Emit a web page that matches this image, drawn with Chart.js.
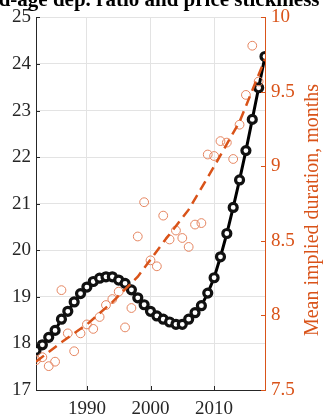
<!DOCTYPE html>
<html>
<head>
<meta charset="utf-8">
<script src="https://cdn.jsdelivr.net/npm/chart.js@4/dist/chart.umd.min.js"></script>
<style>
  html, body { margin: 0; padding: 0; background: #fff; overflow: hidden; }
  canvas { display: block; }
</style>
</head>
<body>
<canvas id="chart" width="323" height="416"></canvas>
<script>
// Old-age dependency ratio (left axis), 1982-2018
const years = [1982,1983,1984,1985,1986,1987,1988,1989,1990,1991,1992,1993,1994,1995,1996,1997,1998,1999,
               2000,2001,2002,2003,2004,2005,2006,2007,2008,2009,2010,2011,2012,2013,2014,2015,2016,2017,2018];
const dependencyRatio = [17.85,17.97,18.13,18.28,18.52,18.69,18.89,19.07,19.21,19.33,19.40,19.43,19.43,19.36,19.29,19.15,18.98,18.83,
                         18.69,18.59,18.52,18.46,18.41,18.41,18.52,18.66,18.81,19.08,19.41,19.86,20.36,20.92,21.51,22.14,22.81,23.49,24.16];

// Mean implied price duration in months (right axis), 1982-2017
const durationYears = [1982,1983,1984,1985,1986,1987,1988,1989,1990,1991,1992,1993,1994,1995,1996,1997,1998,1999,
                       2000,2001,2002,2003,2004,2005,2006,2007,2008,2009,2010,2011,2012,2013,2014,2015,2016,2017];
const meanDuration = [7.70,7.72,7.66,7.69,8.17,7.88,7.76,7.88,7.94,7.91,7.99,8.07,8.11,8.16,7.92,8.05,8.53,8.76,
                      8.37,8.33,8.67,8.51,8.57,8.52,8.46,8.61,8.62,9.08,9.07,9.17,9.16,9.05,9.28,9.48,9.81,9.57];

// Fitted trend of the duration series
const trendYears = [1982,1986,1990,1994,1998,2002,2006,2010,2014,2018];
const trendDuration = [7.69,7.82,7.94,8.09,8.26,8.49,8.71,9.00,9.30,9.72];

// Axis ticks
const xTickYears = [1990, 2000, 2010];
const leftTicks = [17, 18, 19, 20, 21, 22, 23, 24, 25];
const rightTicks = [7.5, 8, 8.5, 9, 9.5, 10];

const chartTitle = 'Old-age dep. ratio and price stickiness';
const rightAxisTitle = 'Mean implied duration, months';

const ORANGE = '#D95319';
const AXIS_GRAY = '#262626';
const GRID_GRAY = '#e3e3e3';
const SERIF = '"Liberation Serif", "Times New Roman", serif';

const pairs = (xs, ys) => xs.map((x, i) => ({ x, y: ys[i] }));

// Title, rotated right-axis label and inward-pointing tick marks
const decorations = {
  id: 'decorations',
  afterDraw(chart) {
    const { ctx, chartArea: a, scales } = chart;
    ctx.save();
    ctx.lineWidth = 1;

    ctx.strokeStyle = AXIS_GRAY;
    ctx.beginPath();
    leftTicks.forEach(v => {
      const y = Math.round(scales.y.getPixelForValue(v)) + 0.5;
      ctx.moveTo(a.left, y); ctx.lineTo(a.left + 4, y);
    });
    xTickYears.forEach(v => {
      const x = Math.round(scales.x.getPixelForValue(v)) + 0.5;
      ctx.moveTo(x, a.bottom); ctx.lineTo(x, a.bottom - 4);
    });
    ctx.stroke();

    ctx.strokeStyle = ORANGE;
    ctx.beginPath();
    rightTicks.forEach(v => {
      const y = Math.round(scales.y2.getPixelForValue(v)) + 0.5;
      ctx.moveTo(a.right, y); ctx.lineTo(a.right - 4, y);
    });
    ctx.stroke();

    ctx.fillStyle = '#000';
    ctx.font = 'bold 21px ' + SERIF;
    ctx.textAlign = 'center';
    ctx.textBaseline = 'alphabetic';
    ctx.fillText(chartTitle, 148, 6);

    ctx.translate(313, 210);
    ctx.rotate(-Math.PI / 2);
    ctx.fillStyle = ORANGE;
    ctx.font = '20px ' + SERIF;
    ctx.textBaseline = 'middle';
    ctx.fillText(rightAxisTitle, 0, 0);
    ctx.restore();
  }
};

const tickFont = { family: SERIF, size: 19 };

new Chart(document.getElementById('chart'), {
  data: {
    datasets: [
      {
        type: 'line',
        label: 'Trend',
        data: pairs(trendYears, trendDuration),
        yAxisID: 'y2',
        borderColor: ORANGE,
        borderWidth: 2.5,
        borderDash: [10, 6],
        pointRadius: 0,
        fill: false,
        order: 0
      },
      {
        type: 'scatter',
        label: 'Mean implied duration',
        data: pairs(durationYears, meanDuration),
        yAxisID: 'y2',
        pointStyle: 'circle',
        pointRadius: 4.4,
        pointBorderWidth: 1,
        borderColor: '#E58560',
        backgroundColor: 'rgba(0,0,0,0)',
        order: 1
      },
      {
        type: 'line',
        label: 'Old-age dependency ratio',
        data: pairs(years, dependencyRatio),
        yAxisID: 'y',
        borderColor: '#000',
        borderWidth: 3,
        pointRadius: 4,
        pointBorderWidth: 3.2,
        pointBackgroundColor: '#fff',
        pointBorderColor: '#111',
        fill: false,
        order: 2
      }
    ]
  },
  options: {
    responsive: false,
    devicePixelRatio: 1,
    animation: false,
    layout: { padding: { top: 12, left: 0, right: 0, bottom: 0 } },
    plugins: { legend: { display: false }, tooltip: { enabled: false }, title: { display: false } },
    scales: {
      x: {
        type: 'linear',
        min: 1982,
        max: 2018,
        afterBuildTicks: s => { s.ticks = xTickYears.map(v => ({ value: v })); },
        afterFit: s => { s.height = 26; },
        ticks: { font: tickFont, color: AXIS_GRAY, padding: 8, maxRotation: 0, callback: v => String(v) },
        grid: { color: GRID_GRAY, drawTicks: false },
        border: { color: AXIS_GRAY, width: 1 }
      },
      y: {
        position: 'left',
        min: 17,
        max: 25,
        afterBuildTicks: s => { s.ticks = leftTicks.map(v => ({ value: v })); },
        afterFit: s => { s.width = 36; },
        ticks: { font: tickFont, color: AXIS_GRAY, padding: 5, callback: v => String(v) },
        grid: { color: GRID_GRAY, drawTicks: false },
        border: { color: AXIS_GRAY, width: 1 }
      },
      y2: {
        position: 'right',
        min: 7.5,
        max: 10,
        afterBuildTicks: s => { s.ticks = rightTicks.map(v => ({ value: v })); },
        afterFit: s => { s.width = 58; },
        ticks: { font: tickFont, color: ORANGE, padding: 6, callback: v => String(v) },
        grid: { drawOnChartArea: false, drawTicks: false },
        border: { color: ORANGE, width: 1 }
      }
    }
  },
  plugins: [decorations]
});
</script>
</body>
</html>
